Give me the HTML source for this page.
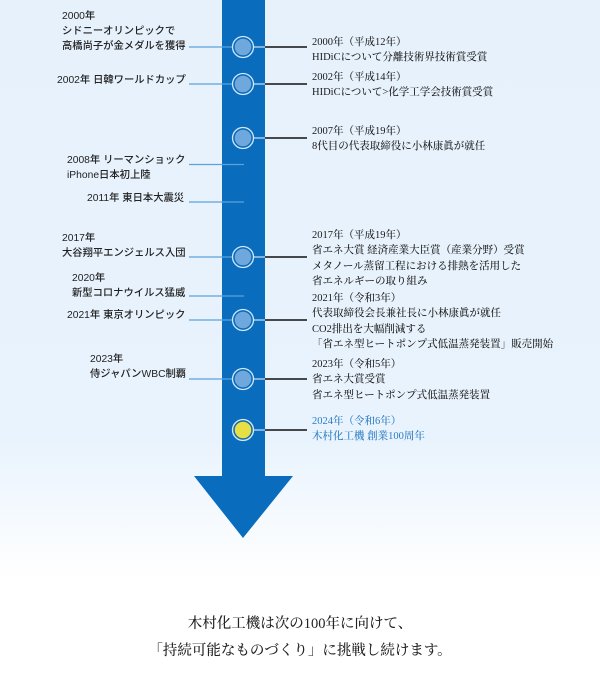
<!DOCTYPE html>
<html><head><meta charset="utf-8"><style>
body{margin:0;width:600px;height:700px;overflow:hidden;background:linear-gradient(#e6f1fc 0,#e9f3fd 440px,#fff 580px,#fff 700px);position:relative;font-family:"Liberation Sans","Noto Sans CJK JP",sans-serif}
.l{position:absolute;font-size:10.3px;line-height:15px;color:#222;font-weight:500;white-space:nowrap}
.r{position:absolute;left:312px;font-family:"Liberation Serif","Noto Serif CJK SC",serif;font-size:10.5px;line-height:15.3px;color:#1a1a1a;white-space:nowrap;font-weight:500}
.b{position:absolute;width:600px;text-align:center;font-family:"Liberation Serif","Noto Serif CJK SC",serif;font-size:14.5px;color:#222;font-weight:500}
svg{position:absolute;left:0;top:0}
</style></head><body>
<svg width="600" height="700">
<rect x="222" y="0" width="43" height="477" fill="#0a6cbd"/>
<polygon points="194,476 293,476 243,538" fill="#0a6cbd"/>
<g stroke="#5aa3dc" stroke-width="1.2">
<line x1="189" y1="47" x2="232" y2="47"/><line x1="189" y1="84" x2="232" y2="84"/>
<line x1="189" y1="164.5" x2="244" y2="164.5"/><line x1="189" y1="202" x2="244" y2="202"/>
<line x1="189" y1="257" x2="232" y2="257"/><line x1="189" y1="296" x2="244" y2="296"/>
<line x1="189" y1="320" x2="232" y2="320"/><line x1="189" y1="379" x2="232" y2="379"/>
</g>
<g stroke="#111" stroke-width="1.5">
<line x1="265" y1="47" x2="307" y2="47"/><line x1="265" y1="84" x2="307" y2="84"/>
<line x1="265" y1="138" x2="307" y2="138"/><line x1="265" y1="257" x2="307" y2="257"/>
<line x1="265" y1="320" x2="307" y2="320"/><line x1="265" y1="379" x2="307" y2="379"/>
<line x1="265" y1="430" x2="307" y2="430"/>
</g>
<g stroke="#cfe3f5" stroke-width="1.2">
<line x1="254" y1="47" x2="265" y2="47"/><line x1="254" y1="84" x2="265" y2="84"/><line x1="254" y1="138" x2="265" y2="138"/><line x1="254" y1="257" x2="265" y2="257"/><line x1="254" y1="320" x2="265" y2="320"/><line x1="254" y1="379" x2="265" y2="379"/><line x1="254" y1="430" x2="265" y2="430"/>
</g>
<g fill="#6fa8dc" stroke="#d4e7f7" stroke-width="1.3">
<circle cx="243" cy="47" r="10.5"/><circle cx="243" cy="84" r="10.5"/><circle cx="243" cy="138" r="10.5"/><circle cx="243" cy="257" r="10.5"/><circle cx="243" cy="320" r="10.5"/><circle cx="243" cy="379" r="10.5"/>
<circle cx="243" cy="430" r="10.5" fill="#e8df45"/>
</g>
<g fill="none" stroke="#0a6cbd" stroke-width="1.5">
<circle cx="243" cy="47" r="9"/><circle cx="243" cy="84" r="9"/><circle cx="243" cy="138" r="9"/><circle cx="243" cy="257" r="9"/><circle cx="243" cy="320" r="9"/><circle cx="243" cy="379" r="9"/><circle cx="243" cy="430" r="9"/>
</g>
</svg>
<div class="l" style="left:62px;top:9px">2000年<br>シドニーオリンピックで<br>高橋尚子が金メダルを獲得</div>
<div class="l" style="left:57px;top:73px">2002年 日韓ワールドカップ</div>
<div class="l" style="left:67px;top:153px">2008年 リーマンショック<br>iPhone日本初上陸</div>
<div class="l" style="left:87px;top:191px">2011年 東日本大震災</div>
<div class="l" style="left:62px;top:231px">2017年<br>大谷翔平エンジェルス入団</div>
<div class="l" style="left:72px;top:271px">2020年<br>新型コロナウイルス猛威</div>
<div class="l" style="left:67px;top:308px">2021年 東京オリンピック</div>
<div class="l" style="left:90px;top:352px">2023年<br>侍ジャパンWBC制覇</div>
<div class="r" style="top:35px">2000年（平成12年）<br>HIDiCについて分離技術界技術賞受賞</div>
<div class="r" style="top:70px">2002年（平成14年）<br>HIDiCについて&gt;化学工学会技術賞受賞</div>
<div class="r" style="top:124px">2007年（平成19年）<br>8代目の代表取締役に小林康眞が就任</div>
<div class="r" style="top:228px">2017年（平成19年）<br>省エネ大賞 経済産業大臣賞（産業分野）受賞<br>メタノール蒸留工程における排熱を活用した<br>省エネルギーの取り組み</div>
<div class="r" style="top:291px">2021年（令和3年）<br>代表取締役会長兼社長に小林康眞が就任<br>CO2排出を大幅削減する<br>「省エネ型ヒートポンプ式低温蒸発装置」販売開始</div>
<div class="r" style="top:357px">2023年（令和5年）<br>省エネ大賞受賞<br>省エネ型ヒートポンプ式低温蒸発装置</div>
<div class="r" style="top:414px;color:#2a7cc4">2024年（令和6年）<br>木村化工機 創業100周年</div>
<div class="b" style="top:612px">木村化工機は次の100年に向けて、</div>
<div class="b" style="top:639px">「持続可能なものづくり」に挑戦し続けます。</div>
</body></html>
